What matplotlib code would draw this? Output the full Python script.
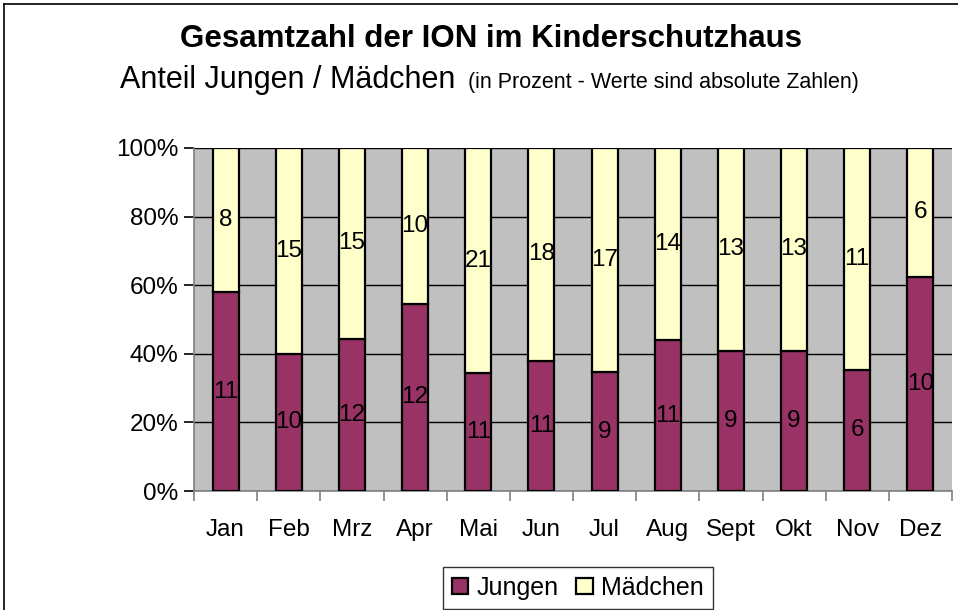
import matplotlib
matplotlib.use("Agg")
import matplotlib.pyplot as plt
import numpy as np
from matplotlib.lines import Line2D

months = ["Jan", "Feb", "Mrz", "Apr", "Mai", "Jun", "Jul", "Aug", "Sept", "Okt", "Nov", "Dez"]
jungen = [11, 10, 12, 12, 11, 11, 9, 11, 9, 9, 6, 10]
maedchen = [8, 15, 15, 10, 21, 18, 17, 14, 13, 13, 11, 6]
yticks = [0, 20, 40, 60, 80, 100]

plt.rcParams['font.family'] = ['Liberation Sans', 'DejaVu Sans']

fig = plt.figure(figsize=(9.58, 6.10), dpi=100)
W, H = 958, 610
ax = fig.add_axes([194 / W, 1 - 491 / H, (952 - 194) / W, (491 - 148) / H])
ax.set_facecolor("#C0C0C0")

j = np.array(jungen, float)
m = np.array(maedchen, float)
tot = j + m
jp = j / tot * 100
mp = m / tot * 100
x = np.arange(len(months))
bw = 0.41
ax.bar(x, jp, bw, color="#993366", edgecolor="black", linewidth=1.6, zorder=3, label="Jungen")
ax.bar(x, mp, bw, bottom=jp, color="#FFFFCC", edgecolor="black", linewidth=1.6, zorder=3, label="Mädchen")

for i in range(len(months)):
    ax.text(x[i], jp[i] / 2, str(jungen[i]), ha="center", va="center", fontsize=17.5, zorder=4)
    ax.text(x[i], jp[i] + mp[i] / 2, str(maedchen[i]), ha="center", va="center", fontsize=17.5, zorder=4)

ax.set_xlim(-0.5, len(months) - 0.5)
ax.set_ylim(0, 100)
ax.set_yticks(yticks)
ax.set_yticklabels([f"{v}%" for v in yticks], fontsize=17.5)
ax.yaxis.grid(True, color="black", linewidth=1, zorder=1)
ax.set_axisbelow(True)
ax.set_xticks(x)
ax.set_xticklabels(months, fontsize=17.5)
ax.tick_params(axis="x", length=0, pad=20)
ax.set_xticks(np.arange(-0.5, len(months)), minor=True)
ax.tick_params(axis="x", which="minor", length=7, color="#808080", width=1.2)
ax.tick_params(axis="y", length=7, width=1.2, color="black", pad=4)
for s in ["top", "right"]:
    ax.spines[s].set_visible(False)
ax.spines["left"].set_color("#808080")
ax.spines["bottom"].set_color("#808080")
ax.spines["left"].set_linewidth(1.2)
ax.spines["bottom"].set_linewidth(1.2)

# figure border
fig.add_artist(Line2D([4 / W, 4 / W], [0, 1 - 4 / H], color="black", linewidth=1.2))
fig.add_artist(Line2D([4 / W, 1], [1 - 4 / H, 1 - 4 / H], color="black", linewidth=1.2))

fig.text(491 / W, 1 - 47 / H, "Gesamtzahl der ION im Kinderschutzhaus", ha="center", va="baseline",
         fontsize=22.5, fontweight="bold")
fig.text(120 / W, 1 - 88 / H, "Anteil Jungen / Mädchen", ha="left", va="baseline", fontsize=22)
fig.text(468 / W, 1 - 88 / H, "(in Prozent - Werte sind absolute Zahlen)", ha="left", va="baseline", fontsize=15.5)

leg = fig.legend(loc="upper left", bbox_to_anchor=(443 / W, 1 - 567 / H), ncol=2, fontsize=18,
                 frameon=True, fancybox=False, edgecolor="black", handlelength=0.65, handleheight=0.65,
                 handletextpad=0.35, columnspacing=0.7, borderpad=0.35, borderaxespad=0)
leg.get_frame().set_linewidth(1.0)

fig.savefig("out.png", dpi=100, facecolor="white")
